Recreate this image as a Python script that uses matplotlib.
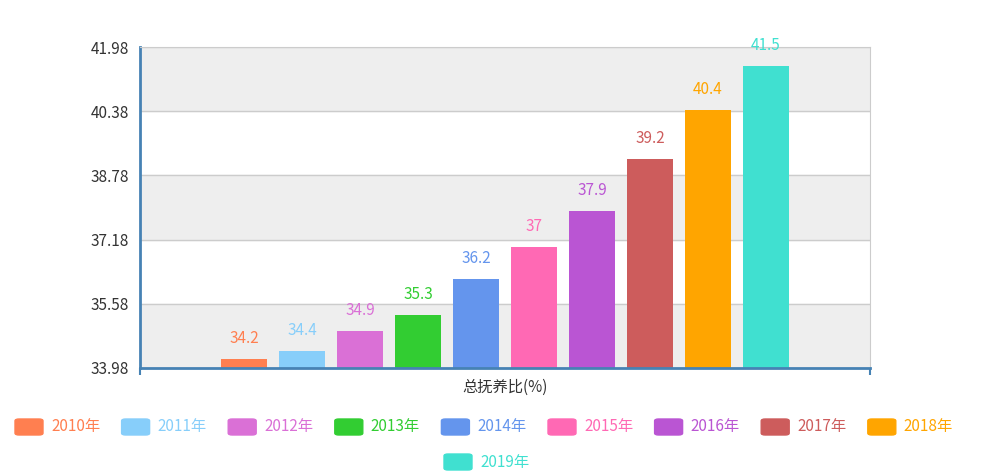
import matplotlib.pyplot as plt
from matplotlib.patches import FancyBboxPatch

years = ["2010年", "2011年", "2012年", "2013年", "2014年",
         "2015年", "2016年", "2017年", "2018年", "2019年"]
values = [34.2, 34.4, 34.9, 35.3, 36.2, 37, 37.9, 39.2, 40.4, 41.5]
colors = ["#ff7f50", "#87cefa", "#da70d6", "#32cd32", "#6495ed",
          "#ff69b4", "#ba55d3", "#cd5c5c", "#ffa500", "#40e0d0"]
yticks = [33.98, 35.58, 37.18, 38.78, 40.38, 41.98]
category = "总抚养比(%)"

plt.rcParams["font.family"] = ["Noto Sans CJK SC", "DejaVu Sans"]
fig = plt.figure(figsize=(10, 4.76), dpi=100)
ax = fig.add_axes([0.14, 0.227, 0.73, 0.674])

# alternating bands
for i in range(len(yticks) - 1):
    if i % 2 == 0:
        ax.axhspan(yticks[i], yticks[i + 1], color="#eeeeee", zorder=0)
for t in yticks[1:]:
    ax.axhline(t, color="#cccccc", lw=1, zorder=1)

gap = 58 / 730
width = 46 / 730
for i, (y, v, c) in enumerate(zip(years, values, colors)):
    x = 0.5 + (i - 4.5) * gap
    ax.bar(x, v - yticks[0], bottom=yticks[0], width=width, color=c, zorder=2)
    ax.text(x, v + 0.3, str(v), ha="center", va="bottom", color=c, fontsize=11)

ax.set_xlim(0, 1)
ax.set_ylim(yticks[0], yticks[-1])
ax.set_yticks(yticks)
ax.set_yticklabels([f"{t:.2f}" for t in yticks], color="#333333", fontsize=11)
ax.tick_params(axis="y", length=0, pad=8)
ax.set_xticks([0, 1])
ax.set_xticklabels(["", ""])
ax.tick_params(axis="x", length=5, color="#4682b4", width=1.5)
ax.text(0.5, -0.035, category, transform=ax.transAxes, ha="center", va="top",
        fontsize=11, color="#333333")
for s in ["top", "right"]:
    ax.spines[s].set_color("#cccccc")
for s in ["left", "bottom"]:
    ax.spines[s].set_color("#4682b4")
    ax.spines[s].set_linewidth(2)

# legend
W, H = 1000, 476
def legend_item(px, py, label, c):
    fig.patches.append(FancyBboxPatch((px / W, (H - py - 8) / H), 28 / W, 16 / H,
                                      boxstyle="round,pad=0,rounding_size=0.004",
                                      transform=fig.transFigure, color=c))
    fig.text((px + 36) / W, (H - py) / H, label, color=c, fontsize=11,
             va="center", ha="left")

for i in range(9):
    legend_item(15 + i * 106.6, 427, years[i], colors[i])
legend_item(444, 462, years[9], colors[9])

fig.savefig("out.png")
